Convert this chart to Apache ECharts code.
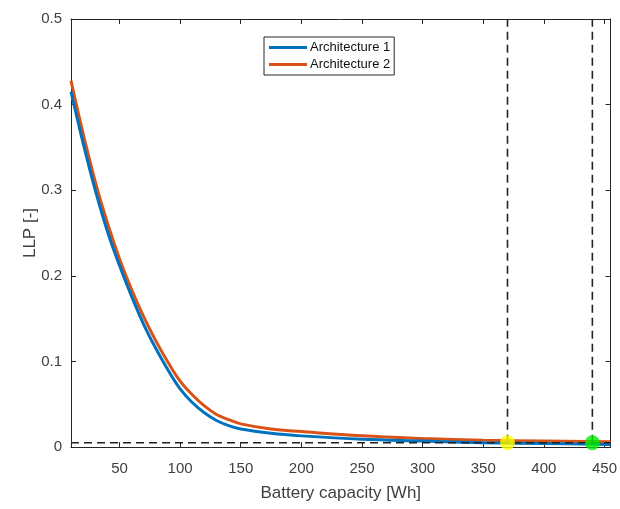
<!DOCTYPE html>
<html>
<head>
<meta charset="utf-8">
<script src="https://cdn.jsdelivr.net/npm/echarts@6/dist/echarts.min.js"></script>
<style>html,body{margin:0;padding:0;background:#fff}#c{width:620px;height:509px}</style>
</head>
<body>
<div id="c"></div>
<script>
const capacity = [10, 20, 30, 40, 50, 60, 70, 80, 90, 100, 110, 120, 130, 140, 150, 175, 200, 250, 300, 350, 400, 455];
const arch1 = [0.415, 0.355, 0.300, 0.252, 0.212, 0.176, 0.143, 0.115, 0.090, 0.068, 0.052, 0.040, 0.031, 0.025, 0.021, 0.016, 0.013, 0.009, 0.007, 0.005, 0.004, 0.003];
const arch2 = [0.428, 0.366, 0.310, 0.262, 0.220, 0.184, 0.152, 0.124, 0.099, 0.077, 0.061, 0.048, 0.038, 0.032, 0.027, 0.021, 0.018, 0.013, 0.010, 0.008, 0.007, 0.006];
const seriesNames = ['Architecture 1', 'Architecture 2'];
const xTicks = [50, 100, 150, 200, 250, 300, 350, 400, 450];
const yTicks = [0, 0.1, 0.2, 0.3, 0.4, 0.5];
const thresholdLLP = 0.005;
const markedCapacities = [370, 440];
const markerColors = ['#ffff00', '#00ee00'];
const xRange = [10, 455];
const yRange = [0, 0.5];

const axisColor = '#262626';
const textColor = '#404040';
const font = 'Liberation Sans, Arial, sans-serif';

const chart = echarts.init(document.getElementById('c'), null, {renderer: 'canvas'});
const dashStyle = {color: '#222', width: 1.6, type: [8, 5]};

const series = [
  {name: seriesNames[0], type: 'line', data: capacity.map((x, i) => [x, arch1[i]]), smooth: 0.4, showSymbol: false, lineStyle: {color: '#0072BD', width: 3}, itemStyle: {color: '#0072BD'}, z: 3},
  {name: seriesNames[1], type: 'line', data: capacity.map((x, i) => [x, arch2[i]]), smooth: 0.4, showSymbol: false, lineStyle: {color: '#D95319', width: 3}, itemStyle: {color: '#D95319'}, z: 2},
  {name: 'h', type: 'line', data: [[xRange[0], thresholdLLP], [xRange[1], thresholdLLP]], showSymbol: false, lineStyle: dashStyle, z: 4, silent: true},
];
markedCapacities.forEach((c, i) => {
  series.push({name: 'v' + i, type: 'line', data: [[c, thresholdLLP], [c, yRange[1]]], showSymbol: false, lineStyle: dashStyle, z: 4, silent: true});
  series.push({name: 'p' + i, type: 'scatter', data: [[c, thresholdLLP]], symbolSize: 15, itemStyle: {color: markerColors[i]}, z: 5, silent: true});
});

chart.setOption({
  animation: false,
  backgroundColor: '#fff',
  grid: {left: 71, right: 8, top: 19, bottom: 62, containLabel: false},
  legend: {
    data: seriesNames, orient: 'vertical', left: 264, top: 37,
    icon: 'rect', itemWidth: 38, itemHeight: 3, itemGap: 4,
    padding: [4, 4, 4, 5], borderColor: axisColor, borderWidth: 1, backgroundColor: '#fff',
    textStyle: {fontFamily: font, fontSize: 13, color: '#111', padding: [0, 0, 0, -2]}
  },
  xAxis: [
    {type: 'value', min: xRange[0], max: xRange[1], position: 'bottom',
     name: 'Battery capacity [Wh]', nameLocation: 'middle', nameGap: 38, nameMoveOverlap: false,
     nameTextStyle: {fontFamily: font, fontSize: 17, color: textColor},
     axisLine: {show: true, onZero: false, lineStyle: {color: axisColor, width: 1}},
     axisTick: {show: true, inside: true, length: 5, customValues: xTicks, lineStyle: {color: axisColor}},
     axisLabel: {show: true, customValues: xTicks, fontFamily: font, fontSize: 15, color: textColor, margin: 14},
     splitLine: {show: false}},
    {type: 'value', min: xRange[0], max: xRange[1], position: 'top',
     axisLine: {show: true, onZero: false, lineStyle: {color: axisColor, width: 1}},
     axisTick: {show: true, inside: true, length: 5, customValues: xTicks, lineStyle: {color: axisColor}},
     axisLabel: {show: false}, splitLine: {show: false}}
  ],
  yAxis: [
    {type: 'value', min: yRange[0], max: yRange[1], interval: 0.1, position: 'left',
     name: 'LLP [-]', nameLocation: 'middle', nameGap: 32, nameMoveOverlap: false,
     nameTextStyle: {fontFamily: font, fontSize: 17, color: textColor},
     axisLine: {show: true, onZero: false, lineStyle: {color: axisColor, width: 1}},
     axisTick: {show: true, inside: true, length: 5, lineStyle: {color: axisColor}},
     axisLabel: {show: true, customValues: yTicks, fontFamily: font, fontSize: 15, color: textColor, margin: 9,
                 formatter: v => (Math.round(v * 10) / 10).toString()},
     splitLine: {show: false}},
    {type: 'value', min: yRange[0], max: yRange[1], interval: 0.1, position: 'right',
     axisLine: {show: true, onZero: false, lineStyle: {color: axisColor, width: 1}},
     axisTick: {show: true, inside: true, length: 5, lineStyle: {color: axisColor}},
     axisLabel: {show: false}, splitLine: {show: false}}
  ],
  series: series
});
</script>
</body>
</html>
